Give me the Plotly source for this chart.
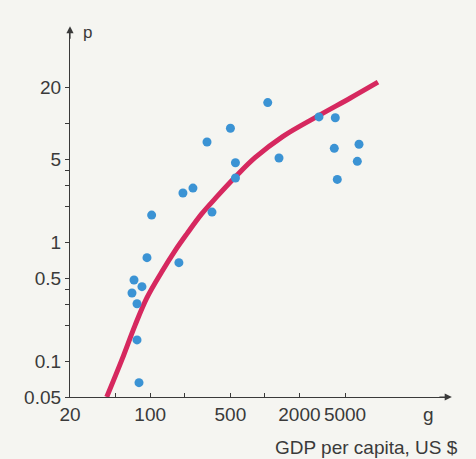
import plotly.graph_objects as go
import math

# Scatter data (GDP per capita in US$, p)
gdp = [69.4, 72.3, 76.8, 84.8, 76.8, 79.9, 93.8, 103, 178, 193, 236, 313, 346,
       501, 554, 554, 1059, 1328, 2963, 4111, 4029, 6618, 6397, 4279]
p_vals = [0.374, 0.481, 0.304, 0.423, 0.151, 0.066, 0.741, 1.69, 0.673, 2.59, 2.85,
          6.95, 1.79, 9.06, 4.65, 3.46, 14.9, 5.10, 11.3, 11.1, 6.15, 6.65, 4.78, 3.37]

# Fitted curve
curve_g = [41.8, 56.5, 73.8, 93.3, 126, 165, 209, 280, 380, 568, 820, 1439, 3027, 5521, 9683]
curve_p = [0.050, 0.102, 0.200, 0.339, 0.562, 0.85, 1.175, 1.72, 2.40, 3.63, 5.13, 7.76, 11.75, 16.2, 22.1]

# Axis ticks
x_tickvals = [20, 50, 100, 200, 500, 1000, 2000, 5000]
x_ticktext = ["20", "", "100", "", "500", "", "2000", "5000"]
y_tickvals = [0.05, 0.1, 0.2, 0.3, 0.4, 0.5, 1, 2, 3, 4, 5, 10, 20]
y_ticktext = ["0.05", "0.1", "", "", "", "0.5", "1", "", "", "", "5", "", "20"]

BG = "#f5f5f1"
AX = "#3a3a3a"
FONT = dict(family="Liberation Sans, Arial, sans-serif", size=19, color="#3a3a3a")

fig = go.Figure()
fig.add_trace(go.Scatter(
    x=curve_g, y=curve_p, mode="lines", line=dict(color="#d6285f", width=5, shape="spline", smoothing=1.0),
    hoverinfo="skip", showlegend=False))
fig.add_trace(go.Scatter(
    x=gdp, y=p_vals, mode="markers",
    marker=dict(color="#3b93d4", size=9, line=dict(width=0)), showlegend=False))

fig.update_layout(
    width=476, height=459,
    paper_bgcolor=BG, plot_bgcolor=BG,
    margin=dict(l=70, r=26, t=28, b=62),
    font=FONT,
    xaxis=dict(type="log", range=[math.log10(20), 4.614], showgrid=False, zeroline=False,
               showline=True, linecolor=AX, linewidth=1.2, automargin=False,
               tickvals=x_tickvals, ticktext=x_ticktext, ticks="inside", ticklen=4,
               tickcolor=AX, tickfont=FONT),
    yaxis=dict(type="log", range=[math.log10(0.05), 1.80], showgrid=False, zeroline=False,
               showline=True, linecolor=AX, linewidth=1.2, automargin=False,
               tickvals=y_tickvals, ticktext=y_ticktext, ticks="outside", ticklen=4,
               tickcolor=AX, tickfont=FONT),
)

# axis arrows
fig.add_annotation(x=1.005, y=0, xref="paper", yref="paper", ax=-14, ay=0, text="",
                   showarrow=True, arrowhead=2, arrowsize=1.2, arrowwidth=1.2, arrowcolor=AX)
fig.add_annotation(x=0, y=1.005, xref="paper", yref="paper", ax=0, ay=14, text="",
                   showarrow=True, arrowhead=2, arrowsize=1.2, arrowwidth=1.2, arrowcolor=AX)

fig.add_annotation(x=0.045, y=0.987, xref="paper", yref="paper", text="p", showarrow=False,
                   xanchor="center", yanchor="middle", font=dict(family=FONT["family"], size=17, color=AX))
fig.add_annotation(x=0.943, y=-0.048, xref="paper", yref="paper", text="g", showarrow=False,
                   xanchor="center", yanchor="middle", font=FONT)
fig.add_annotation(x=1.026, y=-0.136, xref="paper", yref="paper", text="GDP per capita, US $",
                   showarrow=False, xanchor="right", yanchor="middle", font=FONT)

fig.write_html("out.html", config={"displayModeBar": False},
               post_script="document.body.style.margin='0';document.body.style.background='%s';" % BG)
